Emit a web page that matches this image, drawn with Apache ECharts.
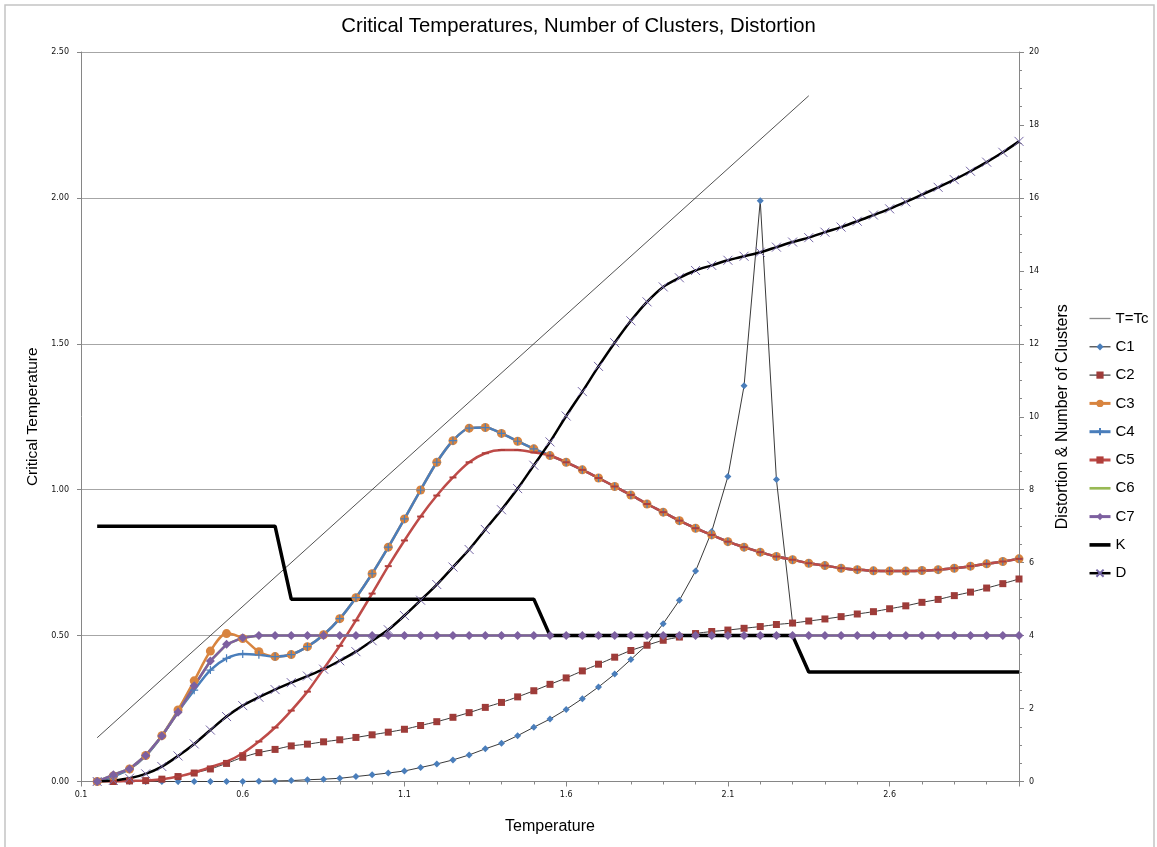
<!DOCTYPE html>
<html>
<head>
<meta charset="utf-8">
<title>Critical Temperatures, Number of Clusters, Distortion</title>
<script src="https://cdn.jsdelivr.net/npm/echarts@6/dist/echarts.min.js"></script>
<style>
  html, body { margin: 0; padding: 0; background: #ffffff; }
  #chart { width: 1157px; height: 847px; }
</style>
</head>
<body>
<div id="chart"></div>
<script>
// Annealing temperatures at which each quantity was sampled
const temps = [0.15, 0.2, 0.25, 0.3, 0.35, 0.4, 0.45, 0.5, 0.55, 0.6,
  0.65, 0.7, 0.75, 0.8, 0.85, 0.9, 0.95, 1.0, 1.05, 1.1,
  1.15, 1.2, 1.25, 1.3, 1.35, 1.4, 1.45, 1.5, 1.55, 1.6,
  1.65, 1.7, 1.75, 1.8, 1.85, 1.9, 1.95, 2.0, 2.05, 2.1,
  2.15, 2.2, 2.25, 2.3, 2.35, 2.4, 2.45, 2.5, 2.55, 2.6,
  2.65, 2.7, 2.75, 2.8, 2.85, 2.9, 2.95, 3.0];

// Reference diagonal T = Tc
const tcTemps = [0.15, 2.35];
const tcValues = [0.15, 2.35];

// Critical temperature of each cluster (left axis)
const c1 = [0, 0, 0, 0, 0, 0, 0, 0, 0, 0,
  0.001, 0.002, 0.003, 0.006, 0.008, 0.011, 0.017, 0.023, 0.029, 0.036,
  0.048, 0.06, 0.074, 0.091, 0.112, 0.131, 0.157, 0.186, 0.214, 0.247,
  0.284, 0.324, 0.368, 0.418, 0.469, 0.541, 0.621, 0.721, 0.857, 1.045,
  1.356, 1.99, 1.035, 0.543, null, null, null, null, null, null,
  null, null, null, null, null, null, null, null];

const c2 = [0, 0, 0.002, 0.003, 0.008, 0.017, 0.029, 0.043, 0.062, 0.083,
  0.099, 0.11, 0.122, 0.128, 0.136, 0.143, 0.151, 0.16, 0.169, 0.179,
  0.192, 0.205, 0.22, 0.236, 0.254, 0.271, 0.29, 0.311, 0.333, 0.355,
  0.379, 0.402, 0.426, 0.449, 0.467, 0.484, 0.495, 0.507, 0.514, 0.519,
  0.525, 0.531, 0.538, 0.543, 0.55, 0.557, 0.565, 0.574, 0.582, 0.592,
  0.602, 0.614, 0.624, 0.637, 0.649, 0.663, 0.678, 0.694];

const c3 = [0, 0.019, 0.043, 0.089, 0.157, 0.245, 0.345, 0.447, 0.507, 0.49,
  0.445, 0.428, 0.435, 0.462, 0.503, 0.558, 0.63, 0.712, 0.803, 0.9,
  0.999, 1.094, 1.168, 1.211, 1.213, 1.193, 1.166, 1.14, 1.117, 1.094,
  1.068, 1.04, 1.011, 0.982, 0.951, 0.923, 0.894, 0.868, 0.845, 0.822,
  0.803, 0.786, 0.771, 0.76, 0.748, 0.74, 0.731, 0.726, 0.722, 0.721,
  0.721, 0.723, 0.726, 0.731, 0.738, 0.746, 0.754, 0.763];

const c4 = [0, 0.017, 0.043, 0.088, 0.156, 0.239, 0.313, 0.382, 0.422, 0.437,
  0.434, 0.428, 0.435, 0.462, 0.503, 0.558, 0.63, 0.712, 0.803, 0.9,
  0.999, 1.094, 1.168, 1.211, 1.213, 1.193, 1.166, 1.14, 1.117, 1.094,
  1.068, 1.04, 1.011, 0.982, 0.951, 0.923, 0.894, 0.868, 0.845, 0.822,
  0.803, 0.786, 0.771, 0.76, 0.748, 0.74, 0.731, 0.726, 0.722, 0.721,
  0.721, 0.723, 0.726, 0.731, 0.738, 0.746, 0.754, 0.763];

const c5 = [0, 0, 0.002, 0.003, 0.008, 0.017, 0.031, 0.049, 0.068, 0.097,
  0.137, 0.185, 0.243, 0.308, 0.386, 0.465, 0.552, 0.644, 0.738, 0.826,
  0.908, 0.98, 1.042, 1.094, 1.125, 1.136, 1.136, 1.128, 1.117, 1.094,
  1.068, 1.04, 1.011, 0.982, 0.951, 0.923, 0.894, 0.868, 0.845, 0.822,
  0.803, 0.786, 0.771, 0.76, 0.748, 0.74, 0.731, 0.726, 0.722, 0.721,
  0.721, 0.723, 0.726, 0.731, 0.738, 0.746, 0.754, 0.763];

const c6 = [0, 0.023, 0.043, 0.089, 0.156, 0.237, 0.328, 0.413, 0.47, 0.493,
  0.5, 0.5, 0.5, 0.5, 0.5, 0.5, 0.5, 0.5, 0.5, 0.5,
  0.5, 0.5, 0.5, 0.5, 0.5, 0.5, 0.5, 0.5, 0.5, 0.5,
  0.5, 0.5, 0.5, 0.5, 0.5, 0.5, 0.5, 0.5, 0.5, 0.5,
  0.5, 0.5, 0.5, 0.5, 0.5, 0.5, 0.5, 0.5, 0.5, 0.5,
  0.5, 0.5, 0.5, 0.5, 0.5, 0.5, 0.5, 0.5];

const c7 = [0, 0.023, 0.043, 0.089, 0.156, 0.237, 0.328, 0.413, 0.47, 0.493,
  0.5, 0.5, 0.5, 0.5, 0.5, 0.5, 0.5, 0.5, 0.5, 0.5,
  0.5, 0.5, 0.5, 0.5, 0.5, 0.5, 0.5, 0.5, 0.5, 0.5,
  0.5, 0.5, 0.5, 0.5, 0.5, 0.5, 0.5, 0.5, 0.5, 0.5,
  0.5, 0.5, 0.5, 0.5, 0.5, 0.5, 0.5, 0.5, 0.5, 0.5,
  0.5, 0.5, 0.5, 0.5, 0.5, 0.5, 0.5, 0.5];

// Number of clusters and distortion (right axis)
const kValues = [7, 7, 7, 7, 7, 7, 7, 7, 7, 7,
  7, 7, 5, 5, 5, 5, 5, 5, 5, 5,
  5, 5, 5, 5, 5, 5, 5, 5, 4, 4,
  4, 4, 4, 4, 4, 4, 4, 4, 4, 4,
  4, 4, 4, 4, 3, 3, 3, 3, 3, 3,
  3, 3, 3, 3, 3, 3, 3, 3];

const dValues = [0, 0.03, 0.09, 0.21, 0.41, 0.7, 1.03, 1.41, 1.78, 2.08,
  2.31, 2.52, 2.71, 2.89, 3.08, 3.31, 3.56, 3.86, 4.16, 4.55,
  4.97, 5.4, 5.88, 6.36, 6.91, 7.45, 8.03, 8.67, 9.31, 10.02,
  10.69, 11.38, 12.03, 12.63, 13.15, 13.56, 13.81, 14.01, 14.15, 14.29,
  14.4, 14.51, 14.65, 14.79, 14.91, 15.06, 15.2, 15.36, 15.53, 15.7,
  15.89, 16.09, 16.29, 16.5, 16.73, 16.98, 17.25, 17.55];

function pairs(xs, ys) {
  const out = [];
  for (let i = 0; i < xs.length; i++) {
    if (ys[i] !== null && ys[i] !== undefined) out.push([xs[i], ys[i]]);
  }
  return out;
}

const LABEL_FONT = 'DejaVu Sans';
const TEXT_FONT = 'Liberation Sans';
const AXIS_GRAY = '#868686';

const plusPath = 'path://M5,0L5,10M0,5L10,5';
const crossPath = 'path://M0,0L10,10M10,0L0,10';

// Plain bar icons for the legend entries that carry no marker
function barIcon(thickness) {
  return 'path://M0,0L22,0L22,' + thickness + 'L0,' + thickness + 'Z';
}

const chart = echarts.init(document.getElementById('chart'), null, { renderer: 'canvas' });

chart.setOption({
  animation: false,
  backgroundColor: '#ffffff',
  title: {
    text: 'Critical Temperatures, Number of Clusters, Distortion',
    left: 'center',
    top: 11,
    textStyle: { fontFamily: TEXT_FONT, fontSize: 20.3, fontWeight: 'normal', color: '#000000' }
  },
  graphic: [{
    type: 'rect',
    shape: { x: 5, y: 5, width: 1149, height: 850 },
    style: { fill: 'none', stroke: '#c4c4c4', lineWidth: 1.5 },
    silent: true,
    z: -1
  }],
  legend: {
    orient: 'vertical',
    left: 1088,
    top: 311,
    padding: 0,
    itemWidth: 21,
    itemHeight: 9,
    itemGap: 13.3,
    symbolKeepAspect: true,
    textStyle: { fontFamily: TEXT_FONT, fontSize: 15, color: '#000000' },
    data: [
      { name: 'T=Tc', icon: barIcon(1.4), itemStyle: { color: '#8c8c8c' } },
      { name: 'C1', lineStyle: { width: 1.2 } },
      { name: 'C2', lineStyle: { width: 1.2 } },
      { name: 'C3', lineStyle: { width: 3 } },
      { name: 'C4', lineStyle: { width: 3 } },
      { name: 'C5', lineStyle: { width: 3 } },
      { name: 'C6', icon: barIcon(2.8), itemStyle: { color: '#98B954' } },
      { name: 'C7', lineStyle: { width: 3 } },
      { name: 'K', icon: barIcon(3.8), itemStyle: { color: '#000000' } },
      { name: 'D', lineStyle: { width: 2.5 } }
    ]
  },
  grid: { left: 81, right: 138, top: 52, bottom: 65.5, containLabel: false },
  xAxis: {
    type: 'value',
    min: 0.1,
    max: 3.0,
    interval: 0.5,
    name: 'Temperature',
    nameLocation: 'middle',
    nameGap: 37,
    nameTextStyle: { fontFamily: TEXT_FONT, fontSize: 16, color: '#000000' },
    axisLine: { show: true, onZero: false, lineStyle: { color: AXIS_GRAY, width: 1 } },
    axisTick: { show: true, length: 5, lineStyle: { color: AXIS_GRAY } },
    minorTick: { show: true, splitNumber: 5, length: 3, lineStyle: { color: AXIS_GRAY } },
    splitLine: { show: false },
    axisLabel: {
      fontFamily: LABEL_FONT, fontSize: 8, color: '#111111', margin: 9,
      showMaxLabel: false,
      formatter: v => v.toFixed(1)
    }
  },
  yAxis: [{
    type: 'value',
    min: 0,
    max: 2.5,
    interval: 0.5,
    name: 'Critical Temperature',
    nameLocation: 'middle',
    nameGap: 40,
    nameTextStyle: { fontFamily: TEXT_FONT, fontSize: 15.5, color: '#000000' },
    axisLine: { show: true, lineStyle: { color: AXIS_GRAY, width: 1 } },
    axisTick: { show: true, length: 4, lineStyle: { color: AXIS_GRAY } },
    splitLine: { show: true, lineStyle: { color: '#a6a6a6', width: 1 } },
    axisLabel: { fontFamily: LABEL_FONT, fontSize: 8, color: '#111111', margin: 12, formatter: v => v.toFixed(2) }
  }, {
    type: 'value',
    min: 0,
    max: 20,
    interval: 2,
    position: 'right',
    name: 'Distortion & Number of Clusters',
    nameLocation: 'middle',
    nameGap: 36,
    nameRotate: 90,
    nameTextStyle: { fontFamily: TEXT_FONT, fontSize: 16, color: '#000000' },
    axisLine: { show: true, lineStyle: { color: AXIS_GRAY, width: 1 } },
    axisTick: { show: true, length: 5, lineStyle: { color: AXIS_GRAY } },
    minorTick: { show: true, splitNumber: 4, length: 3, lineStyle: { color: AXIS_GRAY } },
    splitLine: { show: false },
    axisLabel: { fontFamily: LABEL_FONT, fontSize: 8, color: '#111111', margin: 10 }
  }],
  series: [{
    name: 'T=Tc',
    type: 'line',
    yAxisIndex: 0,
    data: pairs(tcTemps, tcValues),
    symbol: 'none',
    lineStyle: { color: '#262626', width: 0.8 },
    itemStyle: { color: '#8c8c8c' }
  }, {
    name: 'C1',
    type: 'line',
    yAxisIndex: 0,
    data: pairs(temps, c1),
    symbol: 'diamond',
    symbolSize: 7,
    showAllSymbol: true,
    lineStyle: { color: '#3a3a3a', width: 1 },
    itemStyle: { color: '#4A7EBB' }
  }, {
    name: 'C2',
    type: 'line',
    yAxisIndex: 0,
    data: pairs(temps, c2),
    symbol: 'rect',
    symbolSize: 7,
    showAllSymbol: true,
    smooth: 0.3,
    lineStyle: { color: '#3a3a3a', width: 1 },
    itemStyle: { color: '#9E3C39' }
  }, {
    name: 'C3',
    type: 'line',
    yAxisIndex: 0,
    data: pairs(temps, c3),
    symbol: 'circle',
    symbolSize: 9,
    showAllSymbol: true,
    smooth: 0.3,
    lineStyle: { color: '#D8843F', width: 2.5 },
    itemStyle: { color: '#D8843F' }
  }, {
    name: 'C4',
    type: 'line',
    yAxisIndex: 0,
    data: pairs(temps, c4),
    symbol: plusPath,
    symbolSize: 8,
    showAllSymbol: true,
    smooth: 0.3,
    lineStyle: { color: '#4A7EBB', width: 2.5 },
    itemStyle: { color: 'transparent', borderColor: '#4A7EBB', borderWidth: 1.2 }
  }, {
    name: 'C5',
    type: 'line',
    yAxisIndex: 0,
    data: pairs(temps, c5),
    symbol: 'rect',
    symbolSize: [7, 2],
    showAllSymbol: true,
    smooth: 0.3,
    lineStyle: { color: '#BE4B48', width: 2.5 },
    itemStyle: { color: '#B03E3B' }
  }, {
    name: 'C6',
    type: 'line',
    yAxisIndex: 0,
    data: pairs(temps, c6),
    symbol: 'none',
    lineStyle: { color: '#98B954', width: 2.5 },
    itemStyle: { color: '#98B954' }
  }, {
    name: 'C7',
    type: 'line',
    yAxisIndex: 0,
    data: pairs(temps, c7),
    symbol: 'diamond',
    symbolSize: 9,
    showAllSymbol: true,
    lineStyle: { color: '#7D60A0', width: 2.5 },
    itemStyle: { color: '#7D60A0' }
  }, {
    name: 'K',
    type: 'line',
    yAxisIndex: 1,
    data: pairs(temps, kValues),
    symbol: 'none',
    lineStyle: { color: '#000000', width: 3.5 },
    itemStyle: { color: '#000000' }
  }, {
    name: 'D',
    type: 'line',
    yAxisIndex: 1,
    data: pairs(temps, dValues),
    symbol: crossPath,
    symbolSize: 9,
    showAllSymbol: true,
    smooth: 0.3,
    lineStyle: { color: '#000000', width: 2.5 },
    itemStyle: { color: 'transparent', borderColor: '#7566A6', borderWidth: 1 }
  }]
});
</script>
</body>
</html>
